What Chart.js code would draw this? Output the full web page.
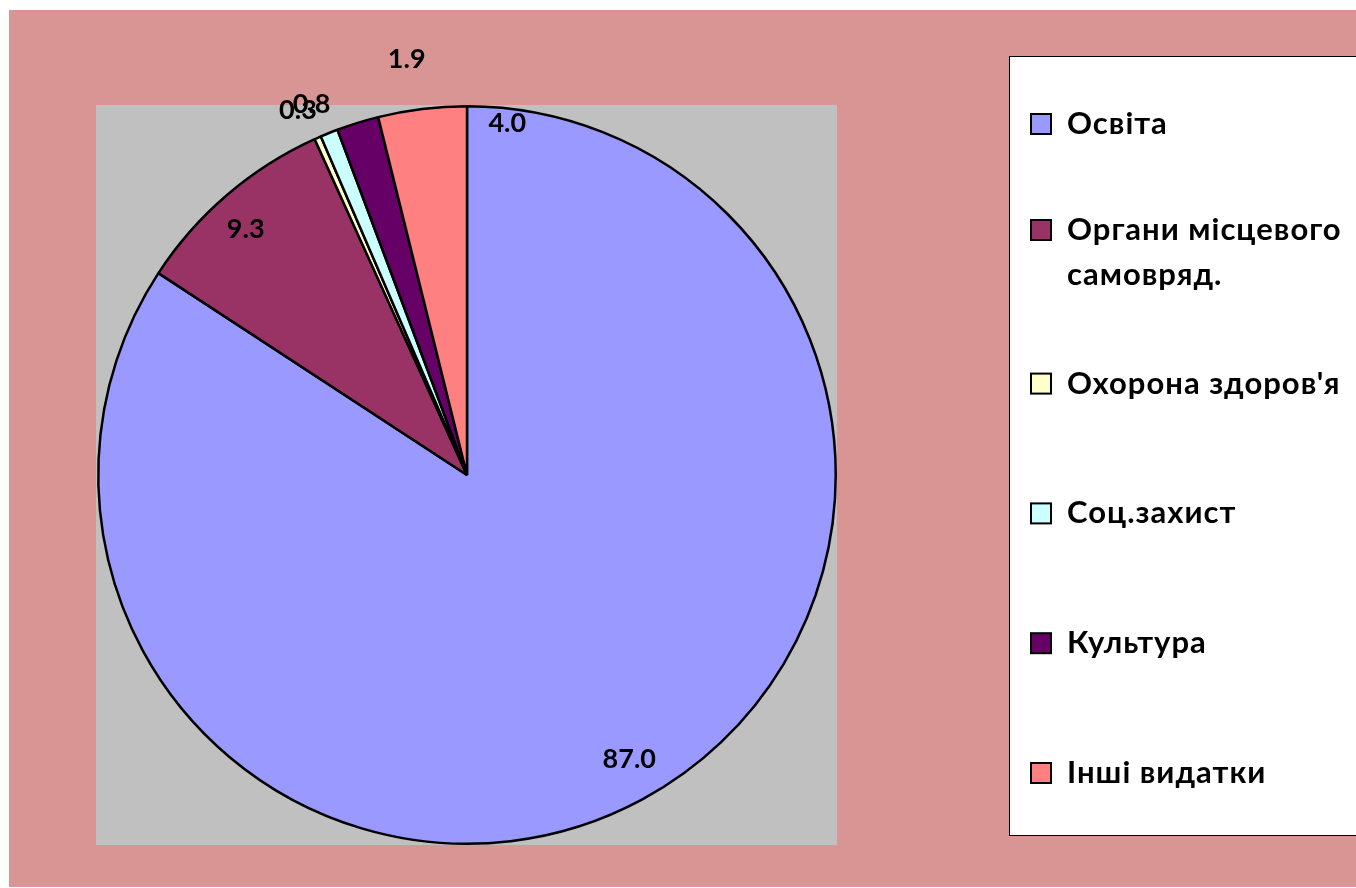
<!DOCTYPE html>
<html><head><meta charset="utf-8">
<script src="https://cdn.jsdelivr.net/npm/chart.js@4"></script>
<style>html,body{margin:0;padding:0;background:#fff;overflow:hidden;} #wrap{position:relative;width:1356px;height:888px;}</style>
</head><body><div id="wrap"><canvas id="c" width="1356" height="888"></canvas></div>
<script>
const categories = ['Освіта', 'Органи місцевого\nсамовряд.', "Охорона здоров'я", 'Соц.захист', 'Культура', 'Інші видатки'];
const values = [87.0, 9.3, 0.3, 0.8, 1.9, 4.0];
const colors = ['#9999FF', '#993366', '#FFFFCC', '#CCFFFF', '#660066', '#FF8080'];

// label placement style (relative to each slice's mid-angle)
const labelRadius = [0.888, 0.897, 1.09, 1.09, 1.14, 0.96];
const labelShiftDeg = [-1.3, -1.4, -1, -0.8, 9, 13.5];

const FONT = 'Lato, "Open Sans", "DejaVu Sans", sans-serif';

const bgPlugin = {
  id: 'bg',
  beforeDraw(chart) {
    const ctx = chart.ctx, a = chart.chartArea;
    ctx.save();
    ctx.fillStyle = '#ffffff';
    ctx.fillRect(0, 0, chart.width, chart.height);
    ctx.fillStyle = '#D99594';
    ctx.fillRect(9, 10, chart.width - 9, chart.height - 11);
    ctx.fillStyle = '#C0C0C0';
    ctx.fillRect(96, a.top, 741, a.bottom - a.top);
    ctx.restore();
  }
};

const labelPlugin = {
  id: 'vlabels',
  afterDatasetsDraw(chart) {
    const ctx = chart.ctx;
    const meta = chart.getDatasetMeta(0);
    ctx.save();
    ctx.font = 'bold 27px ' + FONT;
    ctx.fillStyle = '#000';
    ctx.textAlign = 'center';
    ctx.textBaseline = 'middle';
    meta.data.forEach((arc, i) => {
      const p = arc.getProps(['x', 'y', 'startAngle', 'endAngle', 'outerRadius'], true);
      const mid = (p.startAngle + p.endAngle) / 2 + labelShiftDeg[i] * Math.PI / 180;
      const r = p.outerRadius * labelRadius[i];
      ctx.fillText(values[i].toFixed(1), p.x + Math.cos(mid) * r, p.y + Math.sin(mid) * r);
    });
    ctx.restore();
  }
};

const legendPlugin = {
  id: 'customLegend',
  afterDraw(chart) {
    const ctx = chart.ctx;
    ctx.save();
    ctx.fillStyle = '#ffffff';
    ctx.fillRect(1009, 56, 400, 780);
    ctx.strokeStyle = '#000';
    ctx.lineWidth = 1;
    ctx.strokeRect(1009.5, 56.5, 400, 779);
    ctx.font = 'bold 31px ' + FONT;
    if ('letterSpacing' in ctx) ctx.letterSpacing = '1px';
    ctx.textBaseline = 'middle';
    ctx.textAlign = 'left';
    const labels = chart.data.labels;
    const bg = chart.data.datasets[0].backgroundColor;
    labels.forEach((lab, i) => {
      const lines = lab.split('\n');
      const center = 124 + i * 129.8;
      const y0 = lines.length > 1 ? 230 : center;
      ctx.fillStyle = bg[i];
      ctx.fillRect(1031, y0 - 10, 20, 20);
      ctx.lineWidth = 2;
      ctx.strokeStyle = '#000';
      ctx.strokeRect(1031, y0 - 10, 20, 20);
      ctx.fillStyle = '#000';
      lines.forEach((ln, k) => ctx.fillText(ln, 1067, y0 + k * 45));
    });
    ctx.restore();
  }
};

new Chart(document.getElementById('c'), {
  type: 'pie',
  data: {
    labels: categories,
    datasets: [{
      data: values,
      backgroundColor: colors,
      borderColor: '#000000',
      borderWidth: 2.5
    }]
  },
  options: {
    responsive: false,
    animation: false,
    events: [],
    layout: { padding: { left: 97, top: 105, right: 519, bottom: 43 } },
    plugins: { legend: { display: false }, tooltip: { enabled: false } }
  },
  plugins: [bgPlugin, labelPlugin, legendPlugin]
});
</script>
</body></html>
